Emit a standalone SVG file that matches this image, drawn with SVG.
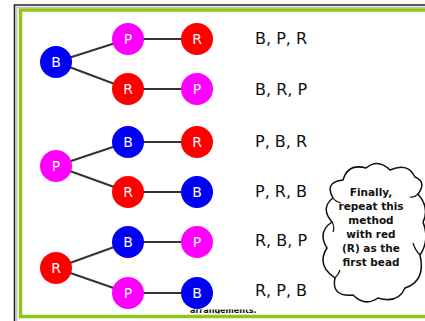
<svg xmlns="http://www.w3.org/2000/svg" width="425" height="321" viewBox="0 0 425 321">
<style>
.bead{stroke:none}
.b{fill:#0000f5}
.r{fill:#ff0000}
.p{fill:#ff00ff}
.bl{font-family:"DejaVu Sans",sans-serif;font-size:14px;fill:#fff;text-anchor:middle}
.lbl{font-family:"DejaVu Sans",sans-serif;font-size:16px;fill:#111}
.cl{font-family:"DejaVu Sans",sans-serif;font-size:10.5px;font-weight:bold;fill:#111;text-anchor:middle}
.edge{stroke:#333;stroke-width:2;fill:none}
</style>
<defs>
<clipPath id="cut"><rect x="180" y="309.5" width="90" height="4"/></clipPath>
</defs>
<rect width="425" height="321" fill="#fff"/>
<!-- frame -->
<path d="M14.5,321 V5 H425" fill="none" stroke="#222" stroke-width="1.6"/>
<path d="M16.8,321 V7.3 H425" fill="none" stroke="#999" stroke-width="0.8"/>
<rect x="20.5" y="10" width="420" height="306.5" fill="none" stroke="#8fc51c" stroke-width="3.5"/>
<g id="connectors">
<line class="edge" x1="56" y1="62" x2="128" y2="39"/>
<line class="edge" x1="56" y1="62" x2="128" y2="89"/>
<line class="edge" x1="128" y1="39" x2="197" y2="39"/>
<line class="edge" x1="128" y1="89" x2="197" y2="89"/>
<line class="edge" x1="56" y1="166" x2="128" y2="142"/>
<line class="edge" x1="56" y1="166" x2="128" y2="192"/>
<line class="edge" x1="128" y1="142" x2="197" y2="142"/>
<line class="edge" x1="128" y1="192" x2="197" y2="192"/>
<line class="edge" x1="56" y1="268" x2="128" y2="242"/>
<line class="edge" x1="56" y1="268" x2="128" y2="293"/>
<line class="edge" x1="128" y1="242" x2="197" y2="242"/>
<line class="edge" x1="128" y1="293" x2="197" y2="293"/>
</g>
<g id="n-root-B"><circle class="bead b" cx="56" cy="62" r="16"/><text class="bl" x="56" y="67">B</text></g>
<g id="n-1a"><circle class="bead p" cx="128" cy="39" r="16"/><text class="bl" x="128" y="44">P</text></g>
<g id="n-1b"><circle class="bead r" cx="197" cy="39" r="16"/><text class="bl" x="197" y="44">R</text></g>
<g id="n-2a"><circle class="bead r" cx="128" cy="89" r="16"/><text class="bl" x="128" y="94">R</text></g>
<g id="n-2b"><circle class="bead p" cx="197" cy="89" r="16"/><text class="bl" x="197" y="94">P</text></g>
<g id="n-root-P"><circle class="bead p" cx="56" cy="166" r="16"/><text class="bl" x="56" y="171">P</text></g>
<g id="n-3a"><circle class="bead b" cx="128" cy="142" r="16"/><text class="bl" x="128" y="147">B</text></g>
<g id="n-3b"><circle class="bead r" cx="197" cy="142" r="16"/><text class="bl" x="197" y="147">R</text></g>
<g id="n-4a"><circle class="bead r" cx="128" cy="192" r="16"/><text class="bl" x="128" y="197">R</text></g>
<g id="n-4b"><circle class="bead b" cx="197" cy="192" r="16"/><text class="bl" x="197" y="197">B</text></g>
<g id="n-root-R"><circle class="bead r" cx="56" cy="268" r="16"/><text class="bl" x="56" y="273">R</text></g>
<g id="n-5a"><circle class="bead b" cx="128" cy="242" r="16"/><text class="bl" x="128" y="247">B</text></g>
<g id="n-5b"><circle class="bead p" cx="197" cy="242" r="16"/><text class="bl" x="197" y="247">P</text></g>
<g id="n-6a"><circle class="bead p" cx="128" cy="293" r="16"/><text class="bl" x="128" y="298">P</text></g>
<g id="n-6b"><circle class="bead b" cx="197" cy="293" r="16"/><text class="bl" x="197" y="298">B</text></g>
<g id="labels">
<text class="lbl" x="255" y="44">B, P, R</text>
<text class="lbl" x="255" y="94.5">B, R, P</text>
<text class="lbl" x="255" y="146.5">P, B, R</text>
<text class="lbl" x="255" y="196.5">P, R, B</text>
<text class="lbl" x="255" y="245.5">R, B, P</text>
<text class="lbl" x="255" y="296">R, P, B</text>
</g>
<text clip-path="url(#cut)" x="190" y="313" font-family="DejaVu Sans,sans-serif" font-size="8" font-weight="bold" fill="#111">arrangements.</text>
<g id="cloud">
<path d="M333,198 Q324,182 343,180 Q348,163 366,168 Q378,158 390,170 Q408,162 415,177 Q427,182 418,194 Q430,208 423,222 Q430,240 420,255 Q426,281 405,288 Q398,304 378,298 Q365,307 353,295 Q331,297 335,278 Q316,265 327,248 Q317,232 332,222 Q320,208 333,198 Z" fill="#fff" stroke="#111" stroke-width="1.5"/>
<path d="M333,198 Q336,202 341,203" fill="none" stroke="#111" stroke-width="1.2"/>
<path d="M332,222 Q335,227 333,232" fill="none" stroke="#111" stroke-width="1.2"/>
<path d="M418,194 Q414,198 410,197" fill="none" stroke="#111" stroke-width="1.2"/>
<path d="M420,255 Q415,250 413,243" fill="none" stroke="#111" stroke-width="1.2"/>
<path d="M335,278 Q339,274 340,270" fill="none" stroke="#111" stroke-width="1.2"/>
<text class="cl" x="371" y="196">Finally,</text>
<text class="cl" x="371" y="210">repeat this</text>
<text class="cl" x="371" y="224">method</text>
<text class="cl" x="371" y="238">with red</text>
<text class="cl" x="371" y="252">(R) as the</text>
<text class="cl" x="371" y="266">first bead</text>
</g>
</svg>
